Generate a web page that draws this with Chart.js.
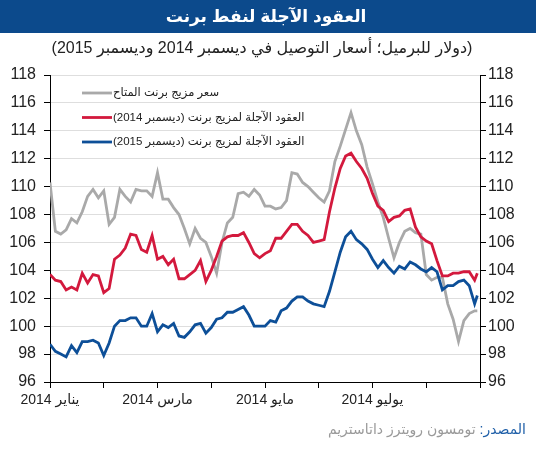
<!DOCTYPE html>
<html><head><meta charset="utf-8">
<script src="https://cdn.jsdelivr.net/npm/chart.js@4.4.1/dist/chart.umd.min.js"></script>
<style>html,body{margin:0;padding:0;background:#fff;}canvas{display:block;}</style>
</head><body>
<canvas id="c" width="536" height="450"></canvas>
<script>
const titleText = 'العقود الآجلة لنفط برنت';
const subtitleText = '(دولار للبرميل؛ أسعار التوصيل في ديسمبر 2014 وديسمبر 2015)';
const sourceLabel = 'المصدر:';
const sourceText = 'تومسون رويترز داتاستريم';

// x axis: months since 1 Jan 2014 (one tick per month)
const monthLabels = ['يناير 2014', '', 'مارس 2014', '', 'مايو 2014', '', 'يوليو 2014', '', ''];
const yMin = 96, yMax = 118, yStep = 2;

const seriesNames = [
  'سعر مزيج برنت المتاح',
  'العقود الآجلة لمزيج برنت (ديسمبر 2014)',
  'العقود الآجلة لمزيج برنت (ديسمبر 2015)'
];
const seriesColors = ['#a9a9a9', '#d3193d', '#0d4f98'];

// sampling dates (in months from 1 Jan 2014)
const sampleMonths = [];
for (let i = 0; i < 80; i++) sampleMonths.push(i / 10);
sampleMonths.push(7.95);

const brentSpot = [
  110.3,106.8,106.6,106.9,107.7,107.4,108.2,109.3,109.8,109.2,
  109.7,107.3,107.8,109.8,109.3,108.9,109.8,109.7,109.7,109.3,
  111.0,109.1,109.1,108.5,108.0,107.0,105.9,107.0,106.3,106.0,
  105.0,103.8,106.0,107.4,107.8,109.5,109.6,109.3,109.8,109.4,
  108.6,108.6,108.4,108.5,109.0,111.0,110.9,110.3,110.0,109.6,
  109.2,108.9,109.7,111.8,112.9,114.1,115.3,114.0,113.0,111.4,
  110.2,108.9,107.8,106.3,104.9,106.0,106.8,107.0,106.7,106.6,
  103.7,103.3,103.5,103.5,101.6,100.5,98.9,100.4,100.9,101.1,101.1
];
const futuresDec2014 = [
  103.7,103.3,103.2,102.6,102.8,102.6,103.8,103.1,103.7,103.6,
  102.4,102.7,104.8,105.1,105.6,106.6,106.5,105.5,105.3,106.5,
  104.8,105.0,104.4,104.8,103.4,103.4,103.7,104.0,104.7,103.2,
  104.0,105.0,106.1,106.4,106.5,106.5,106.7,106.0,105.2,104.9,
  105.2,105.4,106.3,106.3,106.8,107.3,107.3,106.8,106.5,106.0,
  106.1,106.2,108.2,109.9,111.3,112.2,112.4,111.8,111.3,110.6,
  109.5,108.6,108.3,107.5,107.8,107.9,108.3,108.4,107.1,106.4,
  106.1,105.9,104.7,103.6,103.6,103.8,103.8,103.9,103.9,103.3,103.8
];
const futuresDec2015 = [
  98.7,98.2,98.0,97.8,98.6,98.1,98.9,98.9,99.0,98.8,
  97.9,98.8,100.0,100.4,100.4,100.6,100.6,100.0,100.0,100.9,
  99.6,100.1,99.9,100.2,99.3,99.2,99.6,100.1,100.2,99.5,
  99.9,100.5,100.6,101.0,101.0,101.2,101.4,100.8,100.0,100.0,
  100.0,100.4,100.3,101.1,101.3,101.8,102.1,102.1,101.8,101.6,
  101.5,101.4,102.5,103.9,105.3,106.4,106.8,106.2,105.9,105.5,
  104.8,104.2,104.7,104.2,103.8,104.3,104.1,104.6,104.4,104.1,
  103.9,104.2,103.9,102.6,102.9,102.9,103.2,103.3,102.9,101.6,102.2
];

const seriesValues = [brentSpot, futuresDec2014, futuresDec2015];
const drawOrder = [3, 2, 1];

const datasets = seriesValues.map((vals, i) => ({
  label: seriesNames[i],
  data: vals.map((v, j) => ({x: sampleMonths[j], y: v})),
  borderColor: seriesColors[i],
  backgroundColor: seriesColors[i],
  borderWidth: 2.8,
  pointRadius: 0,
  tension: 0,
  order: drawOrder[i],
  yAxisID: 'y'
}));

const FONT = '"Liberation Sans", Arial, "DejaVu Sans", sans-serif';

const decor = {
  id: 'decor',
  beforeDraw(chart) {
    const ctx = chart.ctx;
    ctx.save();
    ctx.fillStyle = '#ffffff';
    ctx.fillRect(0, 0, chart.width, chart.height);
    ctx.fillStyle = '#0c4a8c';
    ctx.fillRect(0, 0, chart.width, 33);
    ctx.direction = 'rtl';
    ctx.textAlign = 'center';
    ctx.textBaseline = 'middle';
    ctx.fillStyle = '#ffffff';
    ctx.font = 'bold 17px ' + FONT;
    ctx.fillText(titleText, 266, 17);
    ctx.fillStyle = '#222222';
    ctx.font = '16px ' + FONT;
    ctx.fillText(subtitleText, 262, 49);
    ctx.textAlign = 'right';
    ctx.font = '14px ' + FONT;
    ctx.fillStyle = '#1f5fa8';
    ctx.fillText(sourceLabel, 526, 430);
    const w = ctx.measureText(sourceLabel).width;
    ctx.fillStyle = '#9a9a9a';
    ctx.fillText(sourceText, 526 - w - 4, 430);
    ctx.restore();
  },
  afterDatasetsDraw(chart) {
    const ctx = chart.ctx;
    const a = chart.chartArea;
    ctx.save();
    ctx.direction = 'rtl';
    ctx.textAlign = 'left';
    ctx.textBaseline = 'middle';
    ctx.font = '11.5px ' + FONT;
    chart.data.datasets.forEach((ds, i) => {
      const y = a.top + 18 + i * 24.5;
      ctx.strokeStyle = ds.borderColor;
      ctx.lineWidth = 2.8;
      ctx.beginPath();
      ctx.moveTo(a.left + 32, y);
      ctx.lineTo(a.left + 62, y);
      ctx.stroke();
      ctx.fillStyle = '#222222';
      ctx.fillText(ds.label, a.left + 63, y);
    });
    ctx.restore();
  }
};

new Chart(document.getElementById('c'), {
  type: 'line',
  data: {datasets},
  options: {
    responsive: false,
    animation: false,
    devicePixelRatio: 1,
    layout: {padding: {top: 75, left: 0, right: 0, bottom: 0}},
    plugins: {legend: {display: false}, tooltip: {enabled: false}},
    scales: {
      x: {
        type: 'linear', min: 0, max: 8,
        afterFit(s) { s.height = 68; },
        ticks: {
          stepSize: 1, autoSkip: false, maxRotation: 0, padding: 4,
          color: '#222', font: {size: 14, family: FONT},
          callback: (v) => monthLabels[v] || ''
        },
        grid: {drawOnChartArea: false, drawTicks: true, tickLength: 6, tickColor: '#000', tickWidth: 1},
        border: {display: true, color: '#000', width: 1}
      },
      y: {
        type: 'linear', position: 'left', min: yMin, max: yMax,
        afterFit(s) { s.width = 50; },
        ticks: {stepSize: yStep, padding: 8, color: '#222', font: {size: 16, family: FONT}},
        grid: {color: '#dedede', lineWidth: 1, tickLength: 6, tickColor: '#000'},
        border: {display: true, color: '#000', width: 1}
      },
      y2: {
        type: 'linear', position: 'right', min: yMin, max: yMax,
        afterFit(s) { s.width = 56; },
        ticks: {stepSize: yStep, padding: 2, color: '#222', font: {size: 16, family: FONT}},
        grid: {drawOnChartArea: false, tickLength: 6, tickColor: '#000'},
        border: {display: true, color: '#000', width: 1}
      }
    }
  },
  plugins: [decor]
});
</script>
</body></html>
